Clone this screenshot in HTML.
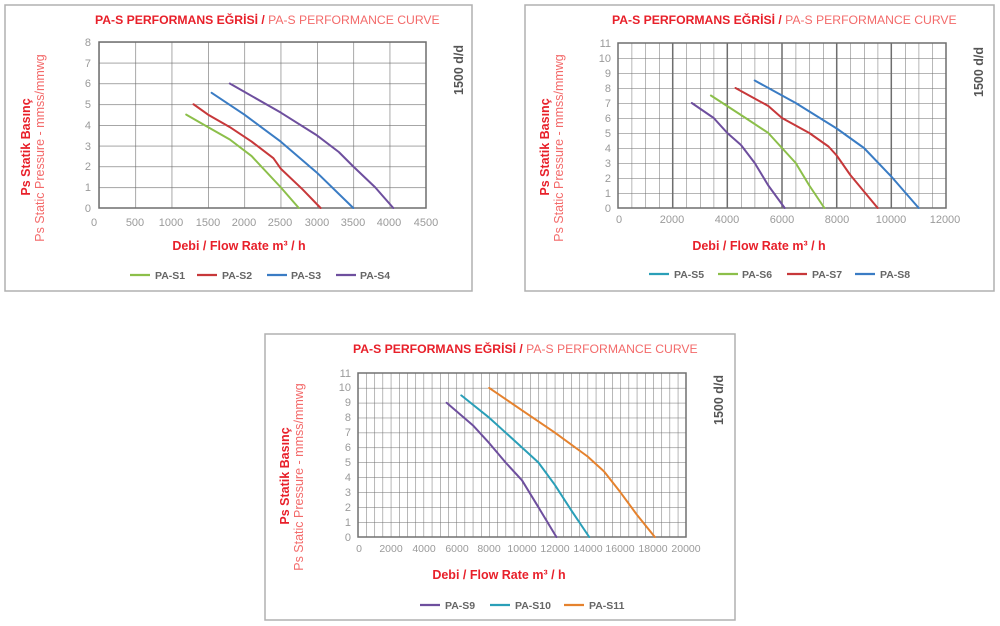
<!DOCTYPE html>
<html><head><meta charset="utf-8"><style>html,body{margin:0;padding:0;background:#fff}svg{display:block}
.t1{font:bold 12.2px "Liberation Sans",sans-serif;fill:#e8202a}.t2{font:12.2px "Liberation Sans",sans-serif;fill:#f36a6a}
.yl1{font:bold 12.5px "Liberation Sans",sans-serif;fill:#e8202a}.yl2{font:12.5px "Liberation Sans",sans-serif;fill:#f36a6a}
.tk{font:11px "Liberation Sans",sans-serif;fill:#9a9a9a}.ax{font:bold 12.5px "Liberation Sans",sans-serif;fill:#e8202a}
.lg{font:bold 10.5px "Liberation Sans",sans-serif;fill:#666}.rpm{font:bold 12.5px "Liberation Sans",sans-serif;fill:#555}
.c{fill:none;stroke-width:2;stroke-linejoin:round;stroke-linecap:round}</style></head><body>
<svg width="1000" height="626" viewBox="0 0 1000 626" xmlns="http://www.w3.org/2000/svg">
<defs>
<pattern id="g1" x="99" y="42" width="36.333" height="20.75" patternUnits="userSpaceOnUse"><path d="M0,0V20.75M0,0H36.333" stroke="#6e6e6e" stroke-width="1.2" fill="none"/></pattern>
<pattern id="g2" x="618" y="43" width="13.667" height="15" patternUnits="userSpaceOnUse"><path d="M0,0V15M0,0H13.667" stroke="#6e6e6e" stroke-width="1" fill="none"/></pattern>
<pattern id="g3" x="358" y="373" width="8.2" height="14.909" patternUnits="userSpaceOnUse"><path d="M0,0V14.909M0,0H8.2" stroke="#707070" stroke-width="1" fill="none"/></pattern>
</defs>
<g fill="none" stroke="#b0b0b0" stroke-width="1.5"><rect x="5" y="5" width="467" height="286"/><rect x="525" y="5" width="469" height="286"/><rect x="265" y="334" width="470" height="286"/></g>

<!-- Panel 1 -->
<text x="95" y="24"><tspan class="t1">PA-S PERFORMANS EĞRİSİ / </tspan><tspan class="t2">PA-S PERFORMANCE CURVE</tspan></text>
<rect x="99" y="42" width="327" height="166" fill="url(#g1)" stroke="#6e6e6e" stroke-width="1.5"/>
<g class="tk" text-anchor="end"><text x="91" y="212">0</text><text x="91" y="191">1</text><text x="91" y="170">2</text><text x="91" y="150">3</text><text x="91" y="129">4</text><text x="91" y="108">5</text><text x="91" y="87">6</text><text x="91" y="67">7</text><text x="91" y="46">8</text></g>
<g class="tk" text-anchor="middle"><text x="94" y="226">0</text><text x="135" y="226">500</text><text x="171" y="226">1000</text><text x="208" y="226">1500</text><text x="244" y="226">2000</text><text x="280" y="226">2500</text><text x="317" y="226">3000</text><text x="353" y="226">3500</text><text x="389" y="226">4000</text><text x="426" y="226">4500</text></g>
<text class="yl1" transform="translate(30,147) rotate(-90)" text-anchor="middle">Ps Statik Basınç</text>
<text class="yl2" transform="translate(44,148) rotate(-90)" text-anchor="middle">Ps Static Pressure - mmss/mmwg</text>
<text class="ax" x="239" y="250" text-anchor="middle">Debi / Flow Rate m³ / h</text>
<text class="rpm" transform="translate(463,95) rotate(-90)">1500 d/d</text>
<polyline class="c" stroke="#8cbf4a" points="186.2,114.6 208,127.1 229.8,139.5 251.6,156.1 280.7,187.25 298.8,208"/>
<polyline class="c" stroke="#c7383a" points="193.5,104.25 208,114.6 229.8,127.1 251.6,141.6 273.4,158.2 280.7,168.6 302.5,189.3 320.6,208"/>
<polyline class="c" stroke="#3a7cc4" points="211.6,92.8 244.3,114.6 280.7,141.6 317,172.7 353.3,208"/>
<polyline class="c" stroke="#6e4f9e" points="229.8,83.5 280.7,112.55 317,135.4 338.8,152 353.3,166.5 375.1,187.25 393.3,208"/>
<g stroke-width="2.2"><line x1="130" y1="275" x2="150" y2="275" stroke="#8cbf4a"/><line x1="197" y1="275" x2="217" y2="275" stroke="#c7383a"/><line x1="267" y1="275" x2="287" y2="275" stroke="#3a7cc4"/><line x1="336" y1="275" x2="356" y2="275" stroke="#6e4f9e"/></g>
<g class="lg"><text x="155" y="279">PA-S1</text><text x="222" y="279">PA-S2</text><text x="291" y="279">PA-S3</text><text x="360" y="279">PA-S4</text></g>

<!-- Panel 2 -->
<text x="612" y="24"><tspan class="t1">PA-S PERFORMANS EĞRİSİ / </tspan><tspan class="t2">PA-S PERFORMANCE CURVE</tspan></text>
<rect x="618" y="43" width="328" height="165" fill="url(#g2)" stroke="#6e6e6e" stroke-width="1.5"/>
<g stroke="#6e6e6e" stroke-width="1.5"><line x1="672.7" y1="43" x2="672.7" y2="208"/><line x1="727.3" y1="43" x2="727.3" y2="208"/><line x1="782" y1="43" x2="782" y2="208"/><line x1="836.7" y1="43" x2="836.7" y2="208"/><line x1="891.3" y1="43" x2="891.3" y2="208"/></g>
<g class="tk" text-anchor="end"><text x="611" y="212">0</text><text x="611" y="197">1</text><text x="611" y="182">2</text><text x="611" y="167">3</text><text x="611" y="152">4</text><text x="611" y="137">5</text><text x="611" y="122">6</text><text x="611" y="107">7</text><text x="611" y="92">8</text><text x="611" y="77">9</text><text x="611" y="62">10</text><text x="611" y="47">11</text></g>
<g class="tk" text-anchor="middle"><text x="619" y="223">0</text><text x="672" y="223">2000</text><text x="727" y="223">4000</text><text x="782" y="223">6000</text><text x="837" y="223">8000</text><text x="891" y="223">10000</text><text x="945" y="223">12000</text></g>
<text class="yl1" transform="translate(549,147) rotate(-90)" text-anchor="middle">Ps Statik Basınç</text>
<text class="yl2" transform="translate(563,148) rotate(-90)" text-anchor="middle">Ps Static Pressure - mmss/mmwg</text>
<text class="ax" x="759" y="250" text-anchor="middle">Debi / Flow Rate m³ / h</text>
<text class="rpm" transform="translate(983,97) rotate(-90)">1500 d/d</text>
<polyline class="c" stroke="#6e4f9e" points="691.8,103 713.7,118 727.3,133 741,145 754.7,163 768.3,185.5 784.7,208"/>
<polyline class="c" stroke="#8cbf4a" points="710.9,95.5 741,115 768.3,133 782,148 795.7,163 809.3,185.5 824.4,208"/>
<polyline class="c" stroke="#c7383a" points="735.5,88 768.3,106 782,118 809.3,133 828.5,146.5 836.7,155.5 850.3,175 877.7,208"/>
<polyline class="c" stroke="#3a7cc4" points="754.7,80.5 795.7,103 836.7,128.5 864,148 891.3,176.5 918.7,208"/>
<g stroke-width="2.2"><line x1="649" y1="274" x2="669" y2="274" stroke="#2a9fb8"/><line x1="718" y1="274" x2="738" y2="274" stroke="#8cbf4a"/><line x1="787" y1="274" x2="807" y2="274" stroke="#c7383a"/><line x1="855" y1="274" x2="875" y2="274" stroke="#3a7cc4"/></g>
<g class="lg"><text x="674" y="278">PA-S5</text><text x="742" y="278">PA-S6</text><text x="812" y="278">PA-S7</text><text x="880" y="278">PA-S8</text></g>

<!-- Panel 3 -->
<text x="353" y="353"><tspan class="t1">PA-S PERFORMANS EĞRİSİ / </tspan><tspan class="t2">PA-S PERFORMANCE CURVE</tspan></text>
<rect x="358" y="373" width="328" height="164" fill="url(#g3)" stroke="#707070" stroke-width="1.5"/>
<g class="tk" text-anchor="end"><text x="351" y="541">0</text><text x="351" y="526">1</text><text x="351" y="511">2</text><text x="351" y="496">3</text><text x="351" y="481">4</text><text x="351" y="466">5</text><text x="351" y="451">6</text><text x="351" y="436">7</text><text x="351" y="421">8</text><text x="351" y="406">9</text><text x="351" y="391">10</text><text x="351" y="377">11</text></g>
<g class="tk" text-anchor="middle" style="font-size:10.5px"><text x="359" y="552">0</text><text x="391" y="552">2000</text><text x="424" y="552">4000</text><text x="457" y="552">6000</text><text x="489" y="552">8000</text><text x="522" y="552">10000</text><text x="555" y="552">12000</text><text x="588" y="552">14000</text><text x="620" y="552">16000</text><text x="653" y="552">18000</text><text x="686" y="552">20000</text></g>
<text class="yl1" transform="translate(289,476) rotate(-90)" text-anchor="middle">Ps Statik Basınç</text>
<text class="yl2" transform="translate(303,477) rotate(-90)" text-anchor="middle">Ps Static Pressure - mmss/mmwg</text>
<text class="ax" x="499" y="579" text-anchor="middle">Debi / Flow Rate m³ / h</text>
<text class="rpm" transform="translate(723,425) rotate(-90)">1500 d/d</text>
<polyline class="c" stroke="#6e4f9e" points="446.6,402.8 472.8,425.2 489.2,443.1 505.6,462.5 522,480.3 538.4,507.2 556.4,537"/>
<polyline class="c" stroke="#2a9fb8" points="461.3,395.4 489.2,417.7 522,447.5 538.4,462.5 554.8,484.8 571.2,510.2 589.2,537"/>
<polyline class="c" stroke="#e5822e" points="489.2,387.9 522,410.3 554.8,432.6 587.6,456.5 604,471.4 620.4,492.3 636.8,514.6 654.8,537"/>
<g stroke-width="2.2"><line x1="420" y1="605" x2="440" y2="605" stroke="#6e4f9e"/><line x1="490" y1="605" x2="510" y2="605" stroke="#2a9fb8"/><line x1="564" y1="605" x2="584" y2="605" stroke="#e5822e"/></g>
<g class="lg"><text x="445" y="609">PA-S9</text><text x="515" y="609">PA-S10</text><text x="589" y="609">PA-S11</text></g>
</svg>
</body></html>
